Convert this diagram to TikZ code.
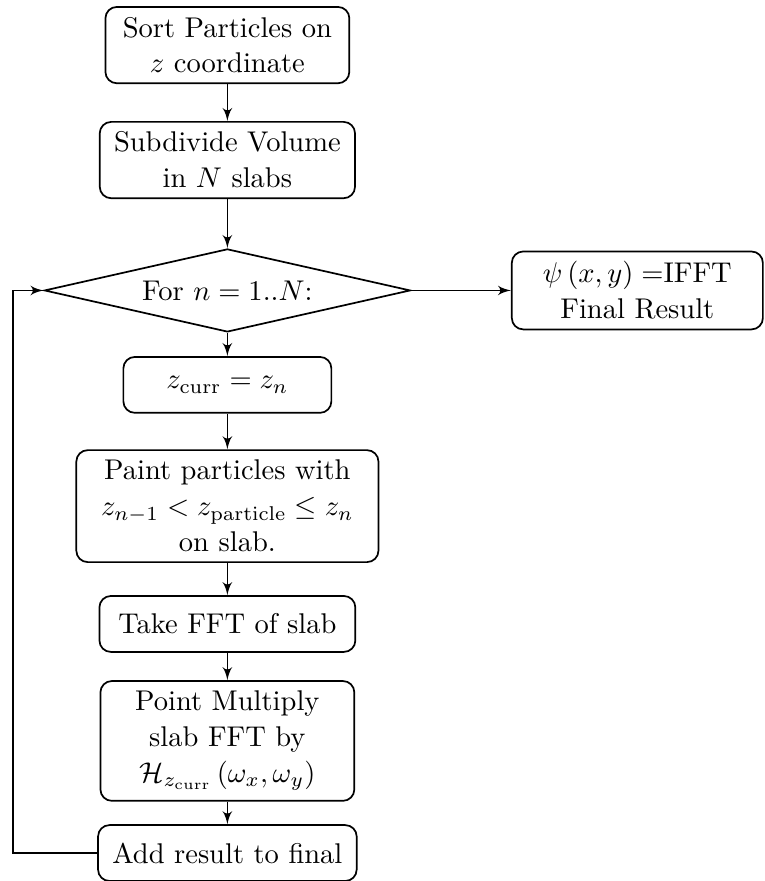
\documentclass[tikz,border=0pt]{standalone}
\usepackage{amsmath, amssymb}
\usepackage{tikz}
\usetikzlibrary{shapes.geometric, arrows}

\begin{document}
\begin{tikzpicture}[x=1pt,y=1pt,
    stepbox/.style={draw,rounded corners=4pt,align=center,inner xsep=5pt,inner ysep=3.5pt,
      minimum height=19.6pt,line width=0.6pt,font=\fontsize{10pt}{12.6pt}\selectfont},
    loopbox/.style={draw,diamond,aspect=4.4,inner sep=0pt,minimum width=128.3pt,
      minimum height=29.1pt,line width=0.6pt},
    flow/.style={-latex',line width=0.6pt}]
      \def\cx{79.7}
      \useasboundingbox (0,0) rectangle (267.8,-308.8);

      \node[stepbox,minimum width=85.5pt] (sort) at (\cx,-15.8) {Sort Particles on\\$z$ coordinate};
      \node[stepbox,minimum width=89pt] (divide) at (\cx,-56.1) {Subdivide Volume\\in $N$ slabs};
      \node[loopbox] (loop) at (\cx,-101.8) {For $n=1..N$:};
      \node[stepbox,minimum width=88pt] (final) at (223.4,-101.8) {$\psi\left(x,y\right)=$IFFT\\Final Result};
      \node[stepbox,minimum width=72.9pt] (zcurr) at (\cx,-134.9) {$z_{\mathrm{curr}}=z_n$};
      \node[stepbox,minimum width=105.9pt] (paint) at (\cx,-177.4)
        {Paint particles with\\$z_{n-1}<z_{\mathrm{particle}}\leq z_n$\\on slab.};
      \node[stepbox,minimum width=89.7pt] (fft) at (\cx,-218.7) {Take FFT of slab};
      \node[stepbox,minimum width=89pt] (mult) at (\cx,-259.7)
        {Point Multiply\\slab FFT by\\$\mathcal{H}_{z_{\mathrm{curr}}}\left(\omega_x,\omega_y\right)$};
      \node[stepbox,minimum width=89pt] (add) at (\cx,-299) {Add result to final};

      \coordinate (back) at (4.6,-299);

      \draw[flow] (sort) -- (divide);
      \draw[flow] (divide) -- (loop);
      \draw[flow] (loop) -- (zcurr);
      \draw[flow] (zcurr) -- (paint);
      \draw[flow] (paint) -- (fft);
      \draw[flow] (fft) -- (mult);
      \draw[flow] (mult) -- (add);
      \draw[flow] (loop.east) -- (final.west);
      \draw[flow] (add.west) -- (back) |- (loop.west);
\end{tikzpicture}
\end{document}
